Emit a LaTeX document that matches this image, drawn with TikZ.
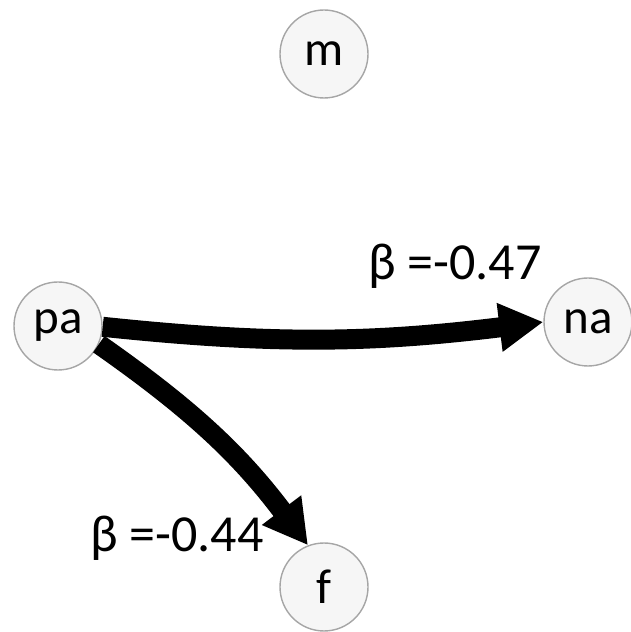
\documentclass[tikz,border=0pt]{standalone}
\usepackage{fontspec}
\setmainfont{Carlito}
\usetikzlibrary{arrows.meta}
\begin{document}
\begin{tikzpicture}[x=1pt,y=1pt,
  vnode/.style={circle, draw=gray!70, line width=1.4pt, fill=gray!7, minimum size=88pt, inner sep=0pt, font=\fontsize{49}{56}\selectfont},
  bigarrow/.style={line width=20pt, -{Triangle[length=44pt,width=46pt]}},
  blabel/.style={font=\fontsize{52}{60}\selectfont, inner sep=0pt}]
\useasboundingbox (0,0) rectangle (630,632);
\node[vnode] (m) at (324,578) {m};
\node[vnode] (pa) at (58,306) {pa};
\node[vnode] (na) at (588,310) {na};
\node[vnode] (f) at (324,45) {f};
\draw[bigarrow] (pa.-1) to[out=-6,in=-173] (na.180);
\draw[bigarrow] (pa.-24) to[out=-35,in=127] (f.111);
\node[blabel] (l1) at (455,366) {β =-0.47};
\node[blabel] (l2) at (177,94) {β =-0.44};
\end{tikzpicture}
\end{document}
